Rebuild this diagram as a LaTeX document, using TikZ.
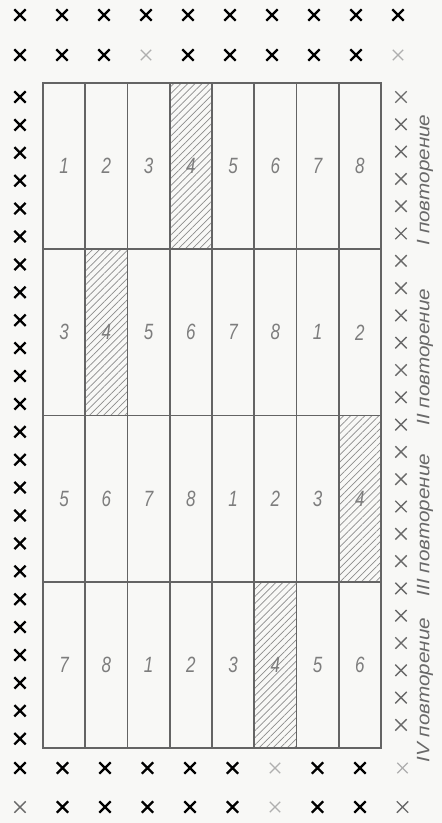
\documentclass[tikz,border=0pt]{standalone}
\usepackage{fontspec}
\setmainfont{Liberation Sans}
\usepackage{graphicx}
\usetikzlibrary{positioning, shapes.misc, patterns.meta}
\definecolor{paper}{RGB}{248,248,246}
\definecolor{gridgray}{RGB}{100,100,100}
\definecolor{digitgray}{RGB}{125,125,125}
\definecolor{hatchgray}{RGB}{140,140,140}
\definecolor{faintgray}{RGB}{175,175,175}
\definecolor{sidegray}{RGB}{105,105,105}
\newcommand{\tallfig}[1]{\scalebox{1}[1.3]{#1}}
\newcommand{\longtext}[1]{\scalebox{1.15}[1]{#1}}

\begin{document}
\begin{tikzpicture}[x=1pt, y=-1pt,
  plot/.style={rectangle, draw=gridgray, line width=1.8pt,
               minimum width=42.25pt, minimum height=166.25pt, inner sep=0pt,
               font=\itshape\fontsize{17}{17}\selectfont, text=digitgray},
  hatched/.style={plot, pattern={Lines[angle=45, distance=5pt, line width=0.7pt]},
                  pattern color=hatchgray},
  xmark/.style={cross out, draw=black, line width=2.3pt, minimum size=9pt, inner sep=0pt},
  faint/.style={xmark, draw=faintgray, line width=1.3pt},
  sidemark/.style={xmark, draw=sidegray, line width=1.4pt, minimum size=10pt},
  replabel/.style={rotate=90, font=\itshape\fontsize{18}{18}\selectfont, text=sidegray}
]
  \fill[paper] (0,0) rectangle (442,823);
  \useasboundingbox (0,0) rectangle (442,823);

  % plots: four repetitions of eight variants, variant 4 hatched
  \foreach \r in {0,...,3}
    \foreach \k in {0,...,7} {
      \pgfmathtruncatemacro{\v}{mod(2*\r+\k,8)+1}
      \ifnum\v=4
        \node[hatched] (c\r\k) at (64.1+42.25*\k, 166.1+166.25*\r) {\tallfig{\v}};
      \else
        \node[plot] (c\r\k) at (64.1+42.25*\k, 166.1+166.25*\r) {\tallfig{\v}};
      \fi
    }

  % repetition labels
  \node[replabel] (rep1) at (425, 180) {\longtext{I повторение}};
  \node[replabel] (rep2) at (425, 357) {\longtext{II повторение}};
  \node[replabel] (rep3) at (425, 525) {\longtext{III повторение}};
  \node[replabel] (rep4) at (425, 690) {\longtext{IV повторение}};

  % guard rows, top and bottom
  \foreach \i/\s in {0/xmark,1/xmark,2/xmark,3/xmark,4/xmark,5/xmark,6/xmark,7/xmark,8/xmark,9/xmark}
    \node[\s] (ta\i) at (20+42*\i, 15) {};
  \foreach \i/\s in {0/xmark,1/xmark,2/xmark,3/faint,4/xmark,5/xmark,6/xmark,7/xmark,8/xmark,9/faint}
    \node[\s] (tb\i) at (20+42*\i, 55) {};
  \foreach \i/\s in {0/xmark,1/xmark,2/xmark,3/xmark,4/xmark,5/xmark,6/faint,7/xmark,8/xmark,9/faint}
    \node[\s] (ba\i) at (20+42.5*\i, 768) {};
  \foreach \i/\s in {0/sidemark,1/xmark,2/xmark,3/xmark,4/xmark,5/xmark,6/faint,7/xmark,8/xmark,9/sidemark}
    \node[\s] (bb\i) at (20+42.5*\i, 807) {};

  % guard columns, left and right
  \foreach \j in {0,...,23}
    \node[xmark] (la\j) at (20, 97+27.9*\j) {};
  \foreach \j in {0,...,23}
    \node[sidemark] (ra\j) at (401, 97+27.3*\j) {};
\end{tikzpicture}
\end{document}
